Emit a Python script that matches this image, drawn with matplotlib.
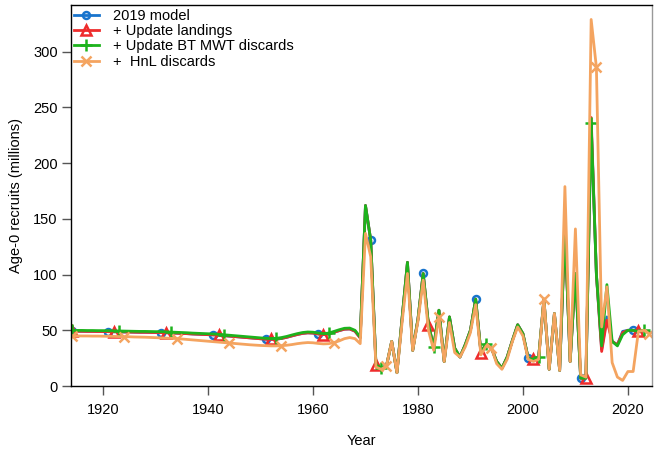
import numpy as np
import matplotlib
matplotlib.use("Agg")
import matplotlib.pyplot as plt

plt.rcParams['font.family'] = ['Liberation Sans', 'DejaVu Sans']

# recruitment estimates (millions), 1914-2024
years = np.arange(1914, 2025)

green_vals = [
    50.0, 49.9, 49.9, 49.8, 49.8, 49.7, 49.7,
    49.6, 49.5, 49.4, 49.3, 49.2, 49.1, 49.0, 49.0, 48.9, 48.8,
    48.8, 48.6, 48.4, 48.2, 48.0, 47.8, 47.5, 47.3, 47.1, 46.9,
    46.7, 46.4, 46.0, 45.6, 45.2, 44.8, 44.4, 44.0, 43.6, 43.2,
    42.8, 42.6, 42.8, 43.5, 44.5, 45.8, 47.0, 48.0, 48.5, 48.3,
    47.5, 47.0, 47.5, 49.0, 50.5, 51.8, 52.0, 50.0, 44.0, 162,
    131, 19, 16, 18, 40, 12, 62, 111, 32, 60,
    101, 55, 35, 68, 22, 62, 34, 26, 37, 50,
    78, 30, 38, 34, 22, 16, 26, 41, 55, 47,
    25, 24, 26, 78, 15, 65, 14, 140, 22, 101,
    7, 7, 236, 100, 36, 91, 40, 36, 46, 50,
    50, 49, 50, 48,
]

orange_vals = [
    45.0, 45.0, 44.9, 44.9, 44.8, 44.8, 44.7,
    44.6, 44.5, 44.4, 44.3, 44.2, 44.0, 43.9, 43.8, 43.6, 43.4,
    43.2, 43.0, 42.8, 42.6, 42.2, 41.8, 41.4, 41.0, 40.6, 40.2,
    39.8, 39.4, 39.0, 38.6, 38.2, 37.8, 37.4, 37.0, 36.7, 36.4,
    36.2, 36.0, 36.0, 36.2, 36.6, 37.2, 38.0, 38.6, 39.0, 38.8,
    38.2, 37.8, 38.0, 39.0, 40.5, 42.5, 43.5, 42.5, 38.0, 137,
    116, 17, 15, 18, 40, 12, 58, 101, 32, 58,
    95, 50, 32, 62, 22, 57, 30, 26, 35, 48,
    73, 28, 36, 34, 20, 15, 24, 40, 53, 45,
    24, 22, 24, 78, 15, 65, 14, 179, 22, 141,
    10, 8, 329, 286, 53, 89, 21, 8, 5, 13,
    13, 49, 50, 47,
]

# red / blue runs track green except a handful of years
red_vals = [v - 0.8 if y < 1970 else v for y, v in zip(years, green_vals)]
red_fix = {2013: 241, 2014: 100, 2015: 31, 2016: 59, 2017: 40, 2018: 37, 2019: 48}
for y, v in red_fix.items():
    red_vals[y - 1914] = v
blue_vals = list(red_vals)
blue_fix = {2013: 236, 2015: 33, 2016: 62, 2019: 49}
for y, v in blue_fix.items():
    blue_vals[y - 1914] = v

labels = ["2019 model", "+ Update landings", "+ Update BT MWT discards", "+  HnL discards"]
colors = ["#1874CD", "#EE2C2C", "#1DB31D", "#F4A460"]
markers = ["o", "^", "+", "x"]
msizes = [5, 7, 9, 7]
offsets = [1, 2, 3, 4]  # marker on years ending in 1, 2, 3, 4

fig = plt.figure(figsize=(6.54, 4.49), dpi=100)
ax = fig.add_axes([0.1086, 0.1403, 0.8884, 0.8486])

for vals, lab, col, mk, ms, off in zip([blue_vals, red_vals, green_vals, orange_vals],
                                        labels, colors, markers, msizes, offsets):
    idx = [0] + [i for i, y in enumerate(years) if y % 10 == off and y > 1914]
    ax.plot(years, vals, color=col, lw=2.0, marker=mk, markevery=idx, ms=ms,
            mfc="none", mec=col, mew=1.8, label=lab)

ax.set_xlim(1913.9, 2024.6)
ax.set_ylim(0, 342)
ax.set_xticks(np.arange(1920, 2021, 20))
ax.set_yticks(np.arange(0, 301, 50))
ax.tick_params(direction="out", length=6.5, width=1, color="#555555",
               labelsize=10.5, pad=3)
ax.tick_params(axis="x", pad=6)
for s in ax.spines.values():
    s.set_linewidth(1.0)
ax.spines["right"].set_color("#999999")

ax.set_xlabel("Year", fontsize=10.5, labelpad=12)
ax.set_ylabel("Age-0 recruits (millions)", fontsize=10.5, labelpad=7)

ax.legend(loc="upper left", frameon=False, fontsize=10.5, handlelength=1.7,
          labelspacing=0.08, borderaxespad=0.2, handletextpad=0.95,
          bbox_to_anchor=(-0.01, 1.012))

fig.savefig("out.png", dpi=100)
